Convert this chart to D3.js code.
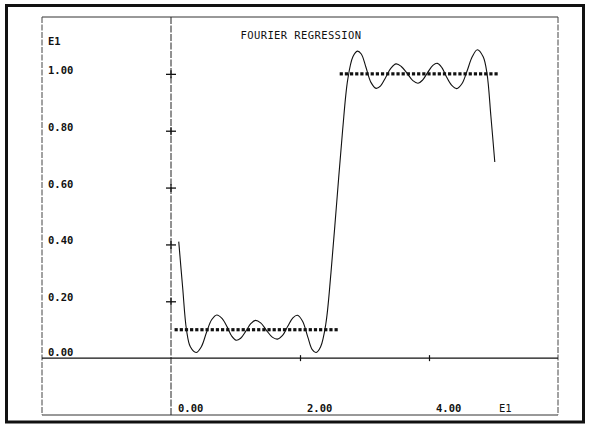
<!DOCTYPE html>
<html>
<head>
<meta charset="utf-8">
<script src="https://cdn.jsdelivr.net/npm/d3@7"></script>
<style>
  body { margin: 0; background: #fff; }
  text { font-family: "DejaVu Sans Mono", "Liberation Mono", monospace; fill: #111; }
</style>
</head>
<body>
<div id="chart"></div>
<script>
// observed step data (dotted)
var stepX = [0.08, 0.16, 0.24, 0.32, 0.40, 0.48, 0.56, 0.64, 0.72, 0.80,
             0.88, 0.96, 1.04, 1.12, 1.20, 1.28, 1.36, 1.44, 1.52, 1.60,
             1.68, 1.76, 1.84, 1.92, 2.00, 2.08, 2.16, 2.24, 2.32, 2.40,
             2.48, 2.56,
             2.64, 2.72, 2.80, 2.88, 2.96, 3.04, 3.12, 3.20, 3.28, 3.36,
             3.44, 3.52, 3.60, 3.68, 3.76, 3.84, 3.92, 4.00, 4.08, 4.16,
             4.24, 4.32, 4.40, 4.48, 4.56, 4.64, 4.72, 4.80, 4.88, 4.96,
             5.04];
var stepY = [0.1, 0.1, 0.1, 0.1, 0.1, 0.1, 0.1, 0.1, 0.1, 0.1,
             0.1, 0.1, 0.1, 0.1, 0.1, 0.1, 0.1, 0.1, 0.1, 0.1,
             0.1, 0.1, 0.1, 0.1, 0.1, 0.1, 0.1, 0.1, 0.1, 0.1,
             0.1, 0.1,
             1.0, 1.0, 1.0, 1.0, 1.0, 1.0, 1.0, 1.0, 1.0, 1.0,
             1.0, 1.0, 1.0, 1.0, 1.0, 1.0, 1.0, 1.0, 1.0, 1.0,
             1.0, 1.0, 1.0, 1.0, 1.0, 1.0, 1.0, 1.0, 1.0, 1.0,
             1.0];

// fitted fourier curve
var fitX = [0.12, 0.18, 0.24, 0.30, 0.39, 0.47, 0.55, 0.63, 0.71, 0.79,
            0.87, 0.94, 1.01, 1.08, 1.16, 1.24, 1.31, 1.39, 1.48, 1.57,
            1.65, 1.73, 1.81, 1.89, 1.96, 2.04, 2.12, 2.19, 2.25, 2.32,
            2.40, 2.48, 2.57, 2.66, 2.74, 2.82, 2.89, 2.95, 3.02, 3.10,
            3.18, 3.25, 3.33, 3.41, 3.49, 3.57, 3.66, 3.75, 3.83, 3.90,
            3.98, 4.06, 4.13, 4.20, 4.27, 4.35, 4.43, 4.51, 4.59, 4.67,
            4.75, 4.84, 4.90, 4.96, 5.02];
var fitY = [0.41, 0.25, 0.10, 0.04, 0.02, 0.04, 0.09, 0.135, 0.152, 0.14,
            0.11, 0.078, 0.063, 0.07, 0.095, 0.122, 0.133, 0.124, 0.098, 0.074,
            0.067, 0.08, 0.112, 0.142, 0.151, 0.13, 0.075, 0.03, 0.02, 0.04,
            0.12, 0.30, 0.55, 0.80, 0.98, 1.06, 1.08, 1.07, 1.025, 0.97,
            0.949, 0.958, 0.988, 1.02, 1.035, 1.026, 1.002, 0.976, 0.967, 0.978,
            1.005, 1.03, 1.037, 1.022, 0.99, 0.96, 0.948, 0.965, 1.01, 1.06,
            1.085, 1.06, 1.00, 0.85, 0.69];

var yTicks = [0, 0.2, 0.4, 0.6, 0.8, 1.0];
var yLabels = ["0.00", "0.20", "0.40", "0.60", "0.80", "1.00"];
var xTicks = [0, 2, 4];
var xLabels = ["0.00", "2.00", "4.00"];

var width = 590, height = 425;
var frame = {left: 42, right: 558, top: 17, bottom: 415};

var svg = d3.select("#chart").append("svg")
  .attr("width", width)
  .attr("height", height);

var x = d3.scaleLinear().domain([-2, 6]).range([frame.left, frame.right]);
var y = d3.scaleLinear().domain([-0.2, 1.2]).range([frame.bottom, frame.top]);

// outer heavy border
svg.append("rect")
  .attr("x", 6.5).attr("y", 5.5)
  .attr("width", 577).attr("height", 416.5)
  .attr("fill", "none").attr("stroke", "#111").attr("stroke-width", 3);

// inner frame
svg.append("line").attr("x1", frame.left).attr("x2", frame.right)
  .attr("y1", frame.top).attr("y2", frame.top)
  .attr("stroke", "#333").attr("stroke-width", 1);
svg.append("line").attr("x1", frame.left).attr("x2", frame.right)
  .attr("y1", frame.bottom).attr("y2", frame.bottom)
  .attr("stroke", "#333").attr("stroke-width", 1);
svg.selectAll(".vframe")
  .data([frame.left, frame.right])
  .enter().append("line")
  .attr("class", "vframe")
  .attr("x1", function(d) { return d; }).attr("x2", function(d) { return d; })
  .attr("y1", frame.top).attr("y2", frame.bottom)
  .attr("stroke", "#444").attr("stroke-width", 1)
  .attr("stroke-dasharray", "6,1.5");

// y axis line (x = 0) and x axis line (y = 0)
svg.append("line")
  .attr("x1", x(0)).attr("x2", x(0))
  .attr("y1", frame.top).attr("y2", frame.bottom)
  .attr("stroke", "#222").attr("stroke-width", 1)
  .attr("stroke-dasharray", "7,1.5");
svg.append("line")
  .attr("x1", frame.left).attr("x2", frame.right)
  .attr("y1", y(0)).attr("y2", y(0))
  .attr("stroke", "#111").attr("stroke-width", 1.2);

// cross ticks on y axis
var yAxis = d3.axisLeft(y).tickValues(yTicks.slice(1)).tickSize(10).tickFormat("");
var gy = svg.append("g")
  .attr("transform", "translate(" + (x(0) + 5) + ",0)")
  .call(yAxis);
gy.select(".domain").remove();
gy.selectAll(".tick line").attr("stroke", "#111").attr("stroke-width", 1.3);
// short solid vertical strokes to make the "+" marks
gy.selectAll(".tick").append("line")
  .attr("x1", -5).attr("x2", -5)
  .attr("y1", -4).attr("y2", 4)
  .attr("stroke", "#111").attr("stroke-width", 1.2);

// small ticks on x axis
var xAxis = d3.axisBottom(x).tickValues(xTicks.slice(1)).tickSize(6).tickFormat("");
var gx = svg.append("g")
  .attr("transform", "translate(0," + (y(0) - 3) + ")")
  .call(xAxis);
gx.select(".domain").remove();
gx.selectAll(".tick line").attr("stroke", "#111").attr("stroke-width", 1.2);

// y labels at the far left
svg.selectAll(".ylab")
  .data(yTicks)
  .enter().append("text")
  .attr("class", "ylab")
  .attr("x", 48)
  .attr("y", function(d) { return y(d) + (d === 0 ? -2 : 0); })
  .attr("font-size", 10.5)
  .attr("font-weight", "bold")
  .text(function(d, i) { return yLabels[i]; });
svg.append("text")
  .attr("x", 48).attr("y", 45)
  .attr("font-size", 10.5).attr("font-weight", "bold")
  .text("E1");

// x labels near bottom frame
svg.selectAll(".xlab")
  .data(xTicks)
  .enter().append("text")
  .attr("class", "xlab")
  .attr("x", function(d) { return x(d) + 7; })
  .attr("y", 412)
  .attr("font-size", 10.5)
  .attr("font-weight", "bold")
  .text(function(d, i) { return xLabels[i]; });
svg.append("text")
  .attr("x", 499).attr("y", 412)
  .attr("font-size", 10.5)
  .text("E1");

// title
svg.append("text")
  .attr("x", 301).attr("y", 39)
  .attr("text-anchor", "middle")
  .attr("font-size", 10.5)
  .attr("letter-spacing", 0.4)
  .text("FOURIER REGRESSION");

// step data as small square markers
var stepData = stepX.map(function(d, i) { return {x: d, y: stepY[i]}; });
svg.selectAll(".pt")
  .data(stepData)
  .enter().append("rect")
  .attr("class", "pt")
  .attr("x", function(d) { return x(d.x) - 1.6; })
  .attr("y", function(d) { return y(d.y) - 1.6; })
  .attr("width", 3.2)
  .attr("height", 3.2)
  .attr("fill", "#111");

// fitted curve
var fitData = fitX.map(function(d, i) { return {x: d, y: fitY[i]}; });
var line = d3.line()
  .x(function(d) { return x(d.x); })
  .y(function(d) { return y(d.y); })
  .curve(d3.curveCatmullRom.alpha(0.5));
svg.append("path")
  .datum(fitData)
  .attr("d", line)
  .attr("fill", "none")
  .attr("stroke", "#111")
  .attr("stroke-width", 1.1);
</script>
</body>
</html>
